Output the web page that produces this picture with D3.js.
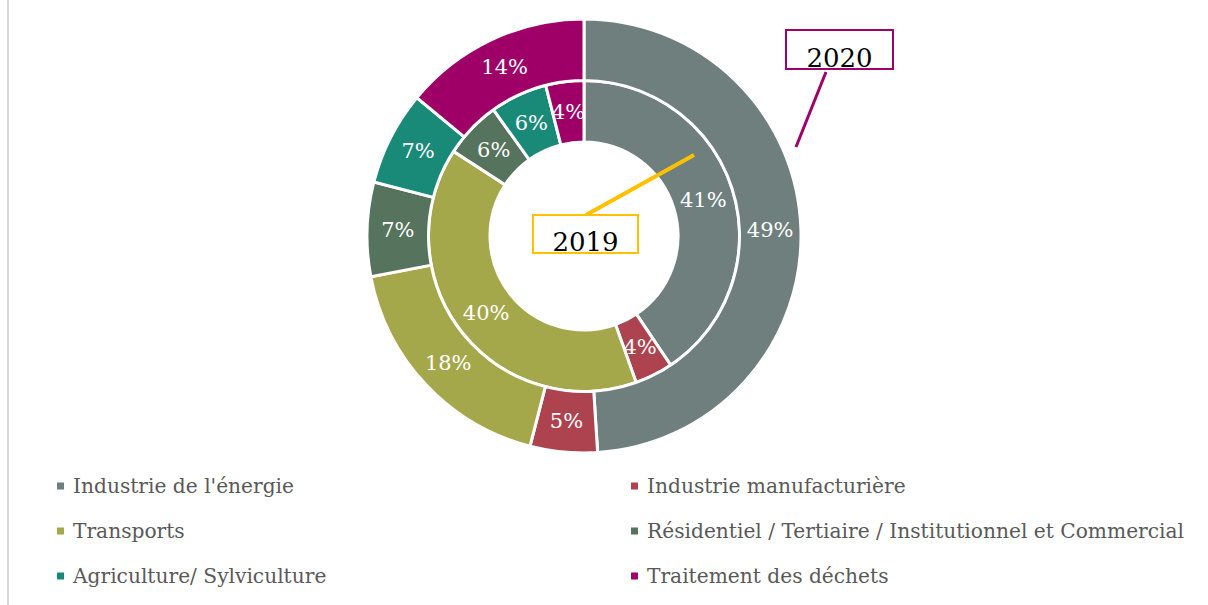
<!DOCTYPE html>
<html><head><meta charset="utf-8">
<script src="https://cdn.jsdelivr.net/npm/d3@7"></script>
<style>body{margin:0;background:#fff}svg{display:block}</style>
</head><body><svg id="c" width="1208" height="605"></svg>
<script>
const categories = ["Industrie de l'énergie","Industrie manufacturière","Transports","Résidentiel / Tertiaire / Institutionnel et Commercial","Agriculture/ Sylviculture","Traitement des déchets"];
const values2019 = [41,4,40,6,6,4];
const values2020 = [49,5,18,7,7,14];
const colors = ["#6E7F7E","#AE4350","#A5A84A","#55735D","#1A8A78","#9E0067"];
const seriesNames = ["2019","2020"];

const FONT = "'DejaVu Serif', serif";
const svg = d3.select("#c");
const W = 1208, H = 605;
svg.append("rect").attr("width",W).attr("height",H).attr("fill","#fff");
svg.append("line").attr("x1",8).attr("x2",8).attr("y1",0).attr("y2",H).attr("stroke","#d9d9d9").attr("stroke-width",2);

const cx = 584, cy = 236;
const rHole = 94, rMid = 155.5, rOuter = 217;
const g = svg.append("g").attr("transform",`translate(${cx},${cy})`);
const pie = d3.pie().sort(null).value(d=>d);

function ring(vals, r0, r1){
  const arcs = pie(vals);
  const arc = d3.arc().innerRadius(r0).outerRadius(r1);
  const rg = g.append("g");
  rg.selectAll("path").data(arcs).enter().append("path")
    .attr("d",arc).attr("fill",(d,i)=>colors[i])
    .attr("stroke","#fff").attr("stroke-width",3).attr("stroke-linejoin","miter");
  const tot = d3.sum(vals);
  rg.selectAll("text").data(arcs).enter().append("text")
    .attr("transform",d=>`translate(${arc.centroid(d)})`)
    .attr("text-anchor","middle").attr("dominant-baseline","central")
    .attr("fill","#fff").style("font-family",FONT).style("font-size","21px")
    .text(d=>Math.round(d.data/tot*100)+"%");
}
ring(values2019, rHole, rMid);
ring(values2020, rMid, rOuter);

// callouts
function callout(name, bx, by, bw, bh, col, x1,y1,x2,y2, lw){
  svg.append("line").attr("x1",x1).attr("y1",y1).attr("x2",x2).attr("y2",y2)
    .attr("stroke",col).attr("stroke-width",lw);
  svg.append("rect").attr("x",bx).attr("y",by).attr("width",bw).attr("height",bh)
    .attr("fill","#fff").attr("stroke",col).attr("stroke-width",2);
  svg.append("text").attr("x",bx+bw/2).attr("y",by+bh-2).attr("text-anchor","middle")
    .style("font-family",FONT).style("font-size","26px").attr("fill","#000").text(name);
}
callout(seriesNames[1], 786, 30, 107, 39, "#A0006A", 826, 72, 796, 147, 3);
callout(seriesNames[0], 533, 215, 105, 38, "#FFC000", 586, 215, 694, 155, 4);

// legend
const legX = [57, 631], legY = [486, 531, 576];
const lg = svg.append("g");
categories.forEach((c,i)=>{
  const x = legX[i%2], y = legY[Math.floor(i/2)];
  lg.append("rect").attr("x",x).attr("y",y-3.5).attr("width",7).attr("height",7).attr("fill",colors[i]);
  lg.append("text").attr("x",x+16).attr("y",y).attr("dominant-baseline","central")
    .style("font-family",FONT).style("font-size","20.2px").attr("fill","#595959").text(c);
});
</script></body></html>
